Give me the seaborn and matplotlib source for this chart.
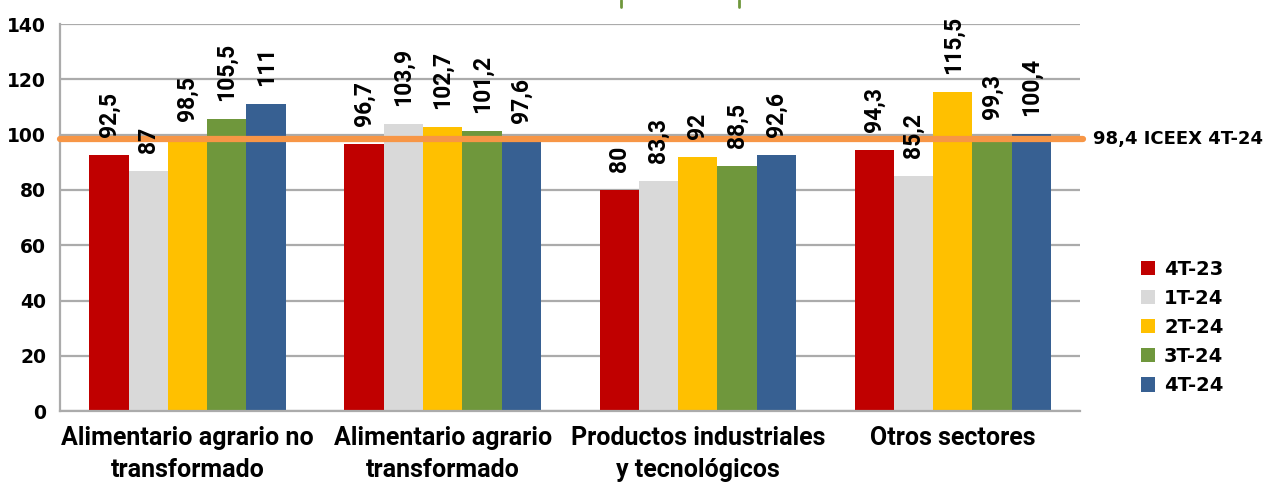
import matplotlib
matplotlib.use("Agg")
import matplotlib.pyplot as plt
from matplotlib.lines import Line2D
import pandas as pd
import seaborn as sns

sectors = [
    "Alimentario agrario no\ntransformado",
    "Alimentario agrario\ntransformado",
    "Productos industriales\ny tecnológicos",
    "Otros sectores",
]
periods = ["4T-23", "1T-24", "2T-24", "3T-24", "4T-24"]
values_4t23 = [92.5, 96.7, 80, 94.3]
values_1t24 = [87, 103.9, 83.3, 85.2]
values_2t24 = [98.5, 102.7, 92, 115.5]
values_3t24 = [105.5, 101.2, 88.5, 99.3]
values_4t24 = [111, 97.6, 92.6, 100.4]
iceex_value = 98.4
iceex_label = "98,4 ICEEX 4T-24"

colors = ["#C00000", "#D9D9D9", "#FFC000", "#6F973C", "#376092"]

series = [values_4t23, values_1t24, values_2t24, values_3t24, values_4t24]
df = pd.DataFrame(
    [
        {"sector": s, "period": p, "value": v}
        for p, vals in zip(periods, series)
        for s, v in zip(sectors, vals)
    ]
)

sns.set_style("white")
plt.rcParams["font.family"] = ["Roboto", "DejaVu Sans"]
plt.rcParams["font.weight"] = "bold"
plt.rcParams["text.color"] = "black"
plt.rcParams["xtick.color"] = "black"
plt.rcParams["ytick.color"] = "black"

fig = plt.figure(figsize=(12.66, 4.82), dpi=100)
ax = fig.add_axes([0.0474, 0.147, 0.806, 0.803])

sns.barplot(
    data=df,
    x="sector",
    y="value",
    hue="period",
    hue_order=periods,
    order=sectors,
    palette=colors,
    saturation=1,
    width=0.77,
    linewidth=0,
    ax=ax,
)

for container in ax.containers:
    labels = [f"{v:g}".replace(".", ",") for v in container.datavalues]
    texts = ax.bar_label(container, labels=labels, rotation=90, padding=13,
                         fontsize=16.5, fontweight="bold")
    for t in texts:
        t.set_zorder(10)

ax.axhline(iceex_value, xmin=0, xmax=1.003, color="#F79646", linewidth=4.5,
           clip_on=False, zorder=5)
ax.text(1.012, iceex_value, iceex_label, transform=ax.get_yaxis_transform(),
        va="center", ha="left", fontsize=13, fontweight="bold",
        family="DejaVu Sans")

ax.set_ylim(0, 140)
ax.set_yticks(range(0, 141, 20))
ax.set_xlim(-0.5, 3.5)
ax.set_xlabel("")
ax.set_ylabel("")
ax.grid(axis="y", color="#ABABAB", linewidth=1.6)
ax.set_axisbelow(True)
for side in ["top", "right"]:
    ax.spines[side].set_visible(False)
for side in ["left", "bottom"]:
    ax.spines[side].set_color("#ABABAB")
    ax.spines[side].set_linewidth(1.6)
ax.tick_params(axis="y", length=6, color="#ABABAB", width=1.6, pad=4)
ax.tick_params(axis="x", length=0, pad=10.5)
for lbl in ax.get_yticklabels():
    lbl.set_fontweight("bold")
    lbl.set_family("DejaVu Sans")
    lbl.set_fontsize(13.5)
for lbl in ax.get_xticklabels():
    lbl.set_fontweight("bold")
    lbl.set_fontsize(18)
    lbl.set_linespacing(1.42)

ax.legend(loc="center left", bbox_to_anchor=(1.042, 0.216), frameon=False,
          handlelength=0.75, handleheight=0.75, handletextpad=0.45,
          labelspacing=0.52, prop={"weight": "bold", "size": 14, "family": "DejaVu Sans"})

# clipped title box marks at the top edge
for xf in [620.5 / 1266, 739 / 1266]:
    fig.add_artist(Line2D([xf, xf], [1.0, 1 - 7 / 482], color="#6F973C",
                          linewidth=2, transform=fig.transFigure))

fig.savefig("out.png", dpi=100)
